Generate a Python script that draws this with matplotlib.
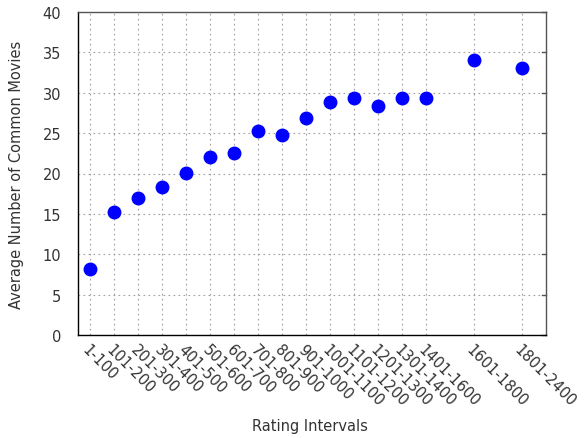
import matplotlib
matplotlib.use("Agg")
import matplotlib.pyplot as plt
from matplotlib.transforms import ScaledTranslation

categories = ["1-100", "101-200", "201-300", "301-400", "401-500", "501-600",
              "601-700", "701-800", "801-900", "901-1000", "1001-1100",
              "1101-1200", "1201-1300", "1301-1400", "1401-1600",
              "1601-1800", "1801-2400"]
positions = [1, 2, 3, 4, 5, 6, 7, 8, 9, 10, 11, 12, 13, 14, 15, 17, 19]
values = [8.2, 15.2, 17.0, 18.3, 20.1, 22.0, 22.5, 25.3, 24.8, 26.9,
          28.9, 29.3, 28.4, 29.3, 29.3, 34.0, 33.1]
y_ticks = [0, 5, 10, 15, 20, 25, 30, 35, 40]

plt.rcParams['font.family'] = ['DejaVu Sans']
fs = 10.5
fig = plt.figure(figsize=(5.84, 4.39), dpi=100)
ax = fig.add_axes([78/584, 1-336/439, (546-78)/584, (336-13)/439])

ax.plot(positions, values, 'o', color='#0000ff', markersize=9, zorder=3, clip_on=False)

ax.set_xlim(0.5, 20)
ax.set_ylim(0, 40)
ax.set_xticks(positions)
ax.set_xticklabels(categories, rotation=-45, ha='left', va='top',
                   rotation_mode='anchor', fontsize=fs, color='#333333')
offset = ScaledTranslation(3/72, 0, fig.dpi_scale_trans)
for lab in ax.get_xticklabels():
    lab.set_transform(lab.get_transform() + offset)
ax.set_yticks(y_ticks)
ax.set_yticklabels([str(v) for v in y_ticks], fontsize=fs, color='#333333')
ax.tick_params(axis='x', length=0, pad=5)
ax.tick_params(axis='y', length=0, pad=12)

ax.grid(True, linestyle=(0, (1.5, 3)), color='#a0a0a0', linewidth=0.8)
ax.set_axisbelow(True)

for s in ['left', 'bottom']:
    ax.spines[s].set_color('black')
    ax.spines[s].set_linewidth(1.0)
for s in ['top', 'right']:
    ax.spines[s].set_color('#555555')
    ax.spines[s].set_linewidth(1.0)

# right-side inward ticks
for y in y_ticks:
    ax.plot([19.85, 20], [y, y], color='#555555', linewidth=1.0, clip_on=False, zorder=2)

ax.set_ylabel("Average Number of Common Movies", fontsize=fs, color='#333333')
ax.yaxis.set_label_coords(-(78-24)/468, 0.5)
ax.set_xlabel("Rating Intervals", fontsize=fs, color='#333333')
ax.xaxis.set_label_coords((310-78)/468, -(419-336)/323)

fig.savefig("out.png", dpi=100)
